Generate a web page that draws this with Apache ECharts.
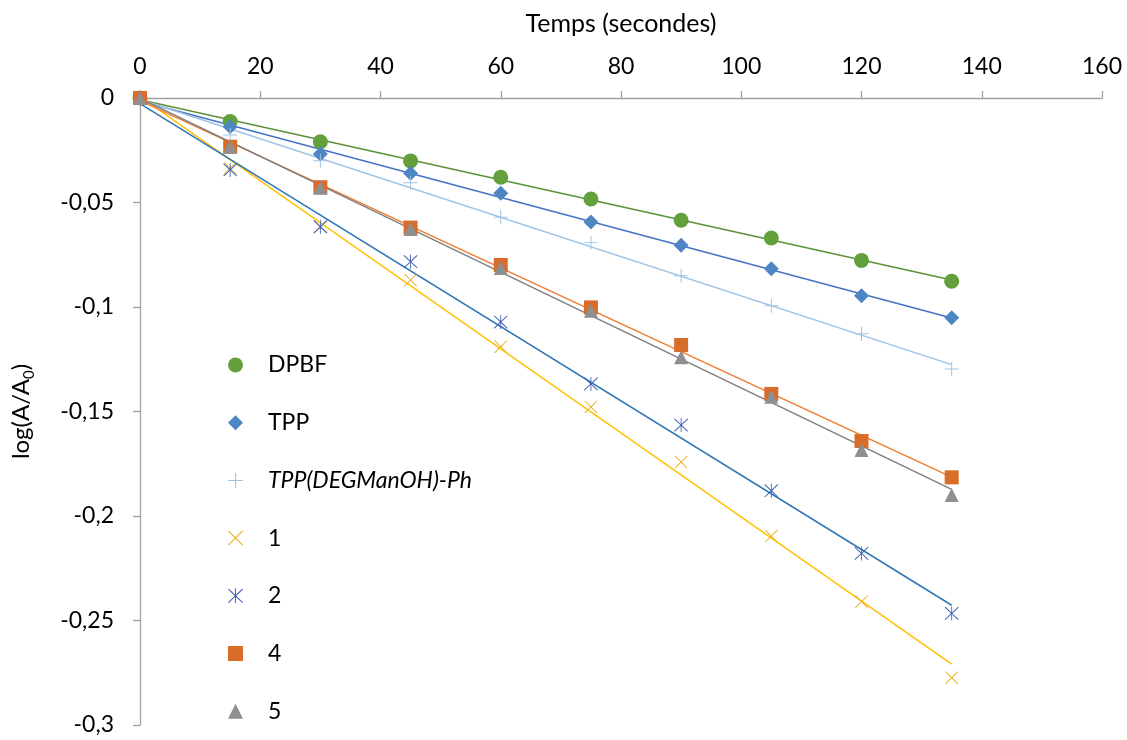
<!DOCTYPE html>
<html>
<head>
<meta charset="utf-8">
<script src="https://cdn.jsdelivr.net/npm/echarts@6/dist/echarts.min.js"></script>
<style>html,body{margin:0;padding:0;background:#fff;}#c{width:1127px;height:740px;}</style>
</head>
<body>
<div id="c"></div>
<script>
const times = [0, 15, 30, 45, 60, 75, 90, 105, 120, 135];
const seriesNames = ['DPBF', 'TPP', 'TPP(DEGManOH)-Ph', '1', '2', '4', '5'];
const dpbf   = [0, -0.0113, -0.0209, -0.0301, -0.0379, -0.0483, -0.0585, -0.0670, -0.0777, -0.0877];
const tpp    = [0, -0.0137, -0.0268, -0.0360, -0.0456, -0.0593, -0.0705, -0.0817, -0.0946, -0.1051];
const tppDeg = [0, -0.0177, -0.0300, -0.0405, -0.0571, -0.0692, -0.0850, -0.0994, -0.1128, -0.1297];
const s1     = [0, -0.0336, -0.0616, -0.0871, -0.1190, -0.1478, -0.1742, -0.2096, -0.2410, -0.2774];
const s2     = [0, -0.0344, -0.0616, -0.0783, -0.1072, -0.1368, -0.1565, -0.1879, -0.2179, -0.2466];
const s4     = [0, -0.0233, -0.0427, -0.0620, -0.0799, -0.1002, -0.1182, -0.1416, -0.1641, -0.1815];
const s5     = [0, -0.0233, -0.0430, -0.0627, -0.0813, -0.1018, -0.1241, -0.1429, -0.1684, -0.1900];
const xTicks = [0, 20, 40, 60, 80, 100, 120, 140, 160];
const yTicks = [0, -0.05, -0.1, -0.15, -0.2, -0.25, -0.3];

const FONT = 'Lato, "Open Sans", sans-serif';
const PLUS = 'path://M9.3,0H10.7V20H9.3Z M0,9.3H20V10.7H0Z';
const CROSS = 'path://M0,1L1,0L10,9L19,0L20,1L11,10L20,19L19,20L10,11L1,20L0,19L9,10Z';
const STAR = 'path://M0,1.5L1,0.5L10,9L19,0.5L20,1.5L11,10L20,18.5L19,19.5L10,11L1,19.5L0,18.5L9,10Z M9.4,0H10.6V20H9.4Z';

const styles = [
  {data: dpbf,   symbol: 'circle',  size: 15, color: '#63A03C', line: '#5B9138'},
  {data: tpp,    symbol: 'diamond', size: 15, color: '#4E86C4', line: '#4472C4'},
  {data: tppDeg, symbol: PLUS,      size: 14, color: '#9DC3E6', line: '#9DC3E6'},
  {data: s1,     symbol: CROSS,     size: 13, color: '#E6AD1E', line: '#FFC000'},
  {data: s2,     symbol: STAR,      size: 14, color: '#3F5FB2', line: '#2E75B6'},
  {data: s4,     symbol: 'rect',    size: 14, color: '#D86C28', line: '#ED7D31'},
  {data: s5,     symbol: 'triangle',size: 14, color: '#8F8F8F', line: '#7F7F7F'}
];

function fit(xs, ys) {
  const n = xs.length;
  let sx = 0, sy = 0, sxx = 0, sxy = 0;
  for (let i = 0; i < n; i++) { sx += xs[i]; sy += ys[i]; sxx += xs[i]*xs[i]; sxy += xs[i]*ys[i]; }
  const b = (n*sxy - sx*sy) / (n*sxx - sx*sx);
  const a = (sy - b*sx) / n;
  return [a, b];
}

const series = [];
styles.forEach((s, i) => {
  const [a, b] = fit(times, s.data);
  const x0 = times[0], x1 = times[times.length - 1];
  series.push({
    type: 'line', name: 'trend' + i, data: [[x0, a + b*x0], [x1, a + b*x1]],
    showSymbol: false, symbol: 'none', silent: true, z: 2,
    lineStyle: {color: s.line, width: 1.5}, itemStyle: {color: s.line}
  });
});
styles.forEach((s, i) => {
  series.push({
    type: 'scatter', name: seriesNames[i], symbol: s.symbol, symbolSize: s.size,
    data: times.map((t, k) => [t, s.data[k]]), z: 3,
    itemStyle: {color: s.color, opacity: 1}
  });
});

const chart = echarts.init(document.getElementById('c'), null, {renderer: 'canvas'});
chart.setOption({
  animation: false,
  backgroundColor: '#fff',
  textStyle: {fontFamily: FONT},
  grid: {left: 140, right: 25, top: 98, bottom: 15, containLabel: false, outerBoundsMode: 'none'},
  legend: {
    orient: 'vertical', left: 223, top: 348.5, itemWidth: 15, itemHeight: 15, itemGap: 34.7,
    selectedMode: false,
    data: seriesNames.map(n => n === 'TPP(DEGManOH)-Ph' ? {name: n, textStyle: {fontStyle: 'italic'}} : {name: n}),
    textStyle: {fontSize: 23, lineHeight: 23, color: '#000', fontFamily: FONT, padding: [0, 0, 0, 20]}
  },
  xAxis: {
    type: 'value', position: 'top', min: xTicks[0], max: xTicks[xTicks.length-1], interval: 20,
    name: 'Temps (secondes)', nameLocation: 'middle', nameGap: 62,
    nameTextStyle: {fontSize: 25, color: '#000', fontFamily: FONT},
    axisLine: {show: true, onZero: false, lineStyle: {color: '#A0A0A0', width: 1.3}},
    axisTick: {show: true, inside: false, length: 7, lineStyle: {color: '#A0A0A0', width: 1.3}},
    axisLabel: {fontSize: 23, color: '#000', margin: 20, fontFamily: FONT},
    splitLine: {show: false}
  },
  yAxis: {
    type: 'value', min: yTicks[yTicks.length-1], max: yTicks[0], interval: 0.05,
    name: 'log(A/A{sub|0})', nameLocation: 'middle', nameGap: 103, nameRotate: 90,
    nameTextStyle: {fontSize: 24, color: '#000', fontFamily: FONT, lineHeight: 26,
      rich: {sub: {fontSize: 15, color: '#000', fontFamily: FONT, lineHeight: 31, verticalAlign: 'bottom'}}},
    axisLine: {show: true, onZero: false, lineStyle: {color: '#A0A0A0', width: 1.3}},
    axisTick: {show: true, inside: false, length: 7, lineStyle: {color: '#A0A0A0', width: 1.3}},
    axisLabel: {fontSize: 23, color: '#000', margin: 26, fontFamily: FONT,
      formatter: v => String(Math.round(v*100)/100).replace('.', ',')},
    splitLine: {show: false}
  },
  series: series
});
</script>
</body>
</html>
